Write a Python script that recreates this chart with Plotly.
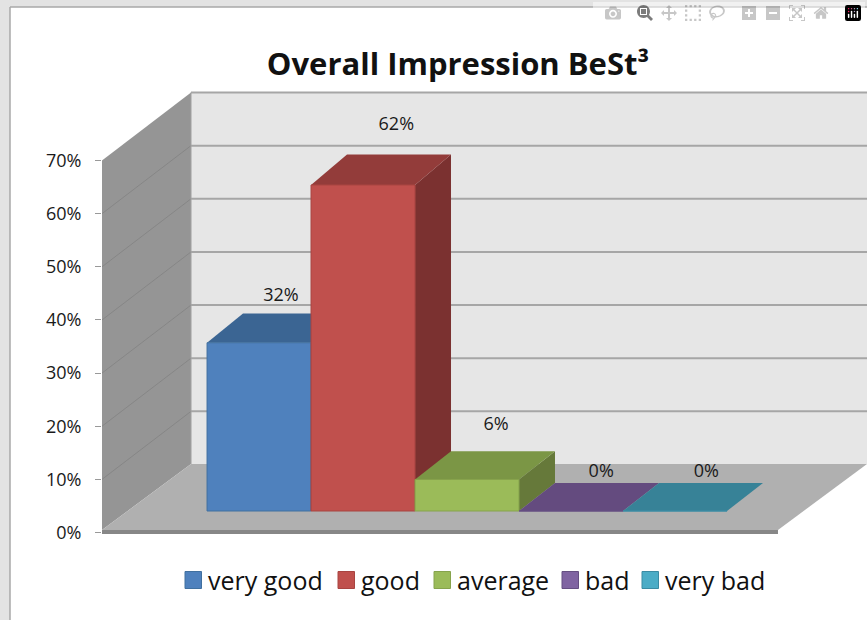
"""
Overall Impression chart: a fake 3D column chart built from plain Plotly traces
"""
import plotly.graph_objects as go

CATEGORIES = ['very good', 'good', 'average', 'bad', 'very bad']
VALUES = [32, 62, 6, 0, 0]
TICK_VALUES = [0, 10, 20, 30, 40, 50, 60, 70]
TITLE = 'Overall Impression BeSt³'

FRONT_COLORS = ['#4f81bd', '#c0504d', '#9bbb59', '#8064a2', '#4bacc6']
EDGE_COLORS = ['#41709f', '#a84441', '#86a34c', '#654f82', '#3a8ba3']
TOP_COLORS = ['#3b6593', '#933c3a', '#7b9645', '#644b7f', '#378297']
SIDE_COLORS = ['#305078', '#7b3130', '#66793a', '#644b7f', '#378297']

FONT = 'Open Sans'
WIDTH, HEIGHT = 867, 620
LEFT, TOP, RIGHT_EDGE, BOTTOM = 102, 91, 867, 535

# wall/floor depth, in units of the main axes
X_RANGE = [-1.51, 5.846]
Y_RANGE = [-0.47, 83.08]
BAR_Y_RANGE = [-4.564, 79.88]
WALL_DX, WALL_DY = 0.856, 12.8
FLOOR_FRONT, FLOOR_BACK, SILL = 0.47, 12.9, -0.28
FLOOR_RIGHT = 4.99

# column depth, in units of the column axes
BAR_DX, BAR_DY, BACK_SCALE = 0.346, 5.33, 1.008

# label nudges from the column's top
LABEL_DX = [0.21, 0.32, 0.28, 0.29, 0.30]
LABEL_DY = [8.75, 11.4, 10.27, 7.23, 7.23]

LEGEND_SWATCH_X = [185, 338, 434, 562, 642]
LEGEND_Y = 580


def px_x(p):
    return (p - LEFT) / (RIGHT_EDGE - LEFT)


def px_y(p):
    return (BOTTOM - p) / (BOTTOM - TOP)


def add_poly(fig, xs, ys, color, yaxis='y'):
    fig.add_trace(go.Scatter(
        x=xs + xs[:1], y=ys + ys[:1], yaxis=yaxis,
        mode='lines', fill='toself', fillcolor=color,
        line=dict(width=0, color=color),
        hoverinfo='skip', showlegend=False
    ))


def add_line(fig, xs, ys, color, width):
    fig.add_trace(go.Scatter(
        x=xs, y=ys, mode='lines',
        line=dict(width=width, color=color),
        hoverinfo='skip', showlegend=False
    ))


fig = go.Figure()

# Walls and floor
x0 = X_RANGE[0]
x1 = x0 + WALL_DX
add_poly(fig, [x1, X_RANGE[1], X_RANGE[1], x1],
         [FLOOR_BACK, FLOOR_BACK, 70 + WALL_DY, 70 + WALL_DY], '#e6e6e6')
add_poly(fig, [x0, x1, x1, x0],
         [FLOOR_FRONT, FLOOR_BACK, 70 + WALL_DY, 70], '#959595')
add_poly(fig, [x0, FLOOR_RIGHT, X_RANGE[1], x1],
         [FLOOR_FRONT, FLOOR_FRONT, FLOOR_BACK, FLOOR_BACK], '#b0b0b0')
add_poly(fig, [x0, FLOOR_RIGHT, FLOOR_RIGHT, x0],
         [SILL, SILL, FLOOR_FRONT, FLOOR_FRONT], '#878787')

# Gridlines
for v in TICK_VALUES:
    if v > 0:
        add_line(fig, [x1, X_RANGE[1]], [v + WALL_DY, v + WALL_DY], '#a6a6a6', 2)
        if v < 70:
            add_line(fig, [x0, x1], [v, v + WALL_DY], '#868686', 1)
add_line(fig, [x1, x1], [FLOOR_BACK, 70 + WALL_DY], '#a3a3a3', 1)

# Column tops and sides, left to right so nearer ones paint over
for i, v in enumerate(VALUES):
    left, right = i - 0.5, i + 0.5
    back = v * BACK_SCALE + BAR_DY
    add_poly(fig, [right, right + BAR_DX, right + BAR_DX, right],
             [0, BAR_DY, back, v], SIDE_COLORS[i], yaxis='y2')
    add_poly(fig, [left, right, right + BAR_DX, left + BAR_DX],
             [v, v, back, back], TOP_COLORS[i], yaxis='y2')

# Column fronts
fig.add_trace(go.Bar(
    x=list(range(len(CATEGORIES))), y=VALUES, yaxis='y3', width=1,
    marker=dict(color=FRONT_COLORS, line=dict(color=EDGE_COLORS, width=1)),
    customdata=CATEGORIES,
    hovertemplate='%{customdata}: %{y}%<extra></extra>',
    showlegend=False
))

# Data labels
fig.add_trace(go.Scatter(
    x=[i + d for i, d in enumerate(LABEL_DX)],
    y=[v + d for v, d in zip(VALUES, LABEL_DY)],
    yaxis='y3', mode='text',
    text=[f'{v}%' for v in VALUES],
    textposition='middle center',
    textfont=dict(family=FONT, size=18, color='#1a1a1a'),
    hoverinfo='skip', showlegend=False
))

# Page frame behind the chart
shapes = [
    dict(type='rect', xref='paper', yref='paper', layer='below',
         x0=px_x(0), x1=px_x(WIDTH), y0=px_y(0), y1=px_y(7),
         fillcolor='#e3e3e3', line=dict(width=0)),
    dict(type='rect', xref='paper', yref='paper', layer='below',
         x0=px_x(0), x1=px_x(10), y0=px_y(0), y1=px_y(HEIGHT),
         fillcolor='#e3e3e3', line=dict(width=0)),
    dict(type='line', xref='paper', yref='paper', layer='below',
         x0=px_x(10), x1=px_x(WIDTH), y0=px_y(7), y1=px_y(7),
         line=dict(color='#a9a9a9', width=1.5)),
    dict(type='line', xref='paper', yref='paper', layer='below',
         x0=px_x(10), x1=px_x(10), y0=px_y(7), y1=px_y(HEIGHT),
         line=dict(color='#a9a9a9', width=1.5)),
]

# Legend, laid out by hand so the swatches sit tight against the text
annotations = []
for name, sx, color, edge in zip(CATEGORIES, LEGEND_SWATCH_X, FRONT_COLORS, EDGE_COLORS):
    shapes.append(dict(
        type='rect', xref='paper', yref='paper',
        x0=px_x(sx), x1=px_x(sx + 16.5),
        y0=px_y(LEGEND_Y - 8.5), y1=px_y(LEGEND_Y + 8.5),
        fillcolor=color, line=dict(color=edge, width=1)
    ))
    annotations.append(dict(
        xref='paper', yref='paper', x=px_x(sx + 23), y=px_y(LEGEND_Y),
        text=name, showarrow=False, xanchor='left', yanchor='middle',
        xshift=-1, borderpad=0, font=dict(family=FONT, size=25, color='#111111')
    ))

fig.update_layout(
    width=WIDTH, height=HEIGHT, autosize=False,
    margin=dict(l=LEFT, r=WIDTH - RIGHT_EDGE, t=TOP, b=HEIGHT - BOTTOM, pad=0),
    paper_bgcolor='white', plot_bgcolor='rgba(0,0,0,0)',
    showlegend=False, hovermode='closest',
    title=dict(
        text=f'<b>{TITLE}</b>', x=458 / WIDTH, y=1 - 64 / HEIGHT,
        xanchor='center', yanchor='middle',
        font=dict(family=FONT, size=31, color='#111111')
    ),
    xaxis=dict(range=X_RANGE, showgrid=False, zeroline=False,
               showticklabels=False, ticks='', showline=False),
    yaxis=dict(range=Y_RANGE, tickvals=TICK_VALUES,
               ticktext=[f'{v}%' for v in TICK_VALUES],
               ticks='outside', ticklen=6, tickwidth=1, tickcolor='#999999',
               ticklabelstandoff=10,
               tickfont=dict(family=FONT, size=18, color='#1a1a1a'),
               showgrid=False, zeroline=False, showline=False),
    yaxis2=dict(range=BAR_Y_RANGE, overlaying='y', visible=False),
    yaxis3=dict(range=BAR_Y_RANGE, overlaying='y', visible=False),
    shapes=shapes,
    annotations=annotations
)

fig.write_html("out.html", post_script="document.body.style.margin='0';")
